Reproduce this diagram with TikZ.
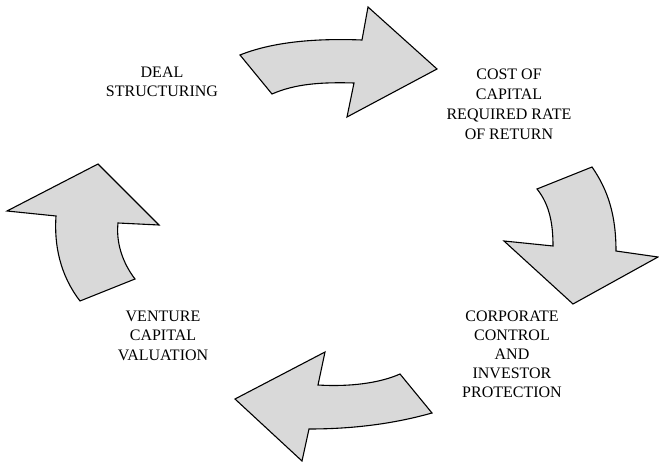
\documentclass[tikz,border=0pt]{standalone}
\usepackage{fontspec}
\setmainfont{Liberation Serif}
\begin{document}
\begin{tikzpicture}[x=1pt,y=-1pt,
  bigarrow/.style={draw=black,line width=1.1pt,fill=arrowgray,line join=miter},
  label/.style={align=center,inner sep=0pt}]
\definecolor{arrowgray}{RGB}{217,217,217}
\useasboundingbox (0,0) rectangle (659,462);
% top arrow
\draw[bigarrow] (240,55) .. controls (270,43) and (310,38) .. (362,40) -- (368,7) -- (437,69) -- (347,117) -- (354,83) .. controls (320,82) and (295,84) .. (272,94) -- cycle;
% right arrow
\draw[bigarrow] (537,189) -- (592,167) .. controls (608,190) and (616,215) .. (616,251) -- (658,257) -- (573,304) -- (504,241) -- (553,246) .. controls (553,225) and (550,205) .. (537,189) -- cycle;
% bottom arrow
\draw[bigarrow] (400,374) -- (432,413) .. controls (400,422) and (360,429) .. (309,429) -- (302,461) -- (235,399) -- (325,352) -- (318,385) .. controls (350,387) and (380,383) .. (400,374) -- cycle;
% left arrow
\draw[bigarrow] (80,301) -- (135,279) .. controls (122,262) and (116,242) .. (118,223) -- (159,225) -- (98,164) -- (7,211) -- (56,216) .. controls (54,245) and (60,275) .. (80,301) -- cycle;
% labels
\node[label,font=\fontsize{16}{19}\selectfont] (deal) at (162,82.2) {DEAL\\STRUCTURING};
\node[label,font=\fontsize{16}{20}\selectfont] (cost) at (509,104.7) {COST OF\\CAPITAL\\REQUIRED RATE\\OF RETURN};
\node[label,font=\fontsize{16}{19.3}\selectfont] (venture) at (163,335.7) {VENTURE\\CAPITAL\\VALUATION};
\node[label,font=\fontsize{16}{18.8}\selectfont] (corp) at (512,354.2) {CORPORATE\\CONTROL\\AND\\INVESTOR\\PROTECTION};
\end{tikzpicture}
\end{document}
